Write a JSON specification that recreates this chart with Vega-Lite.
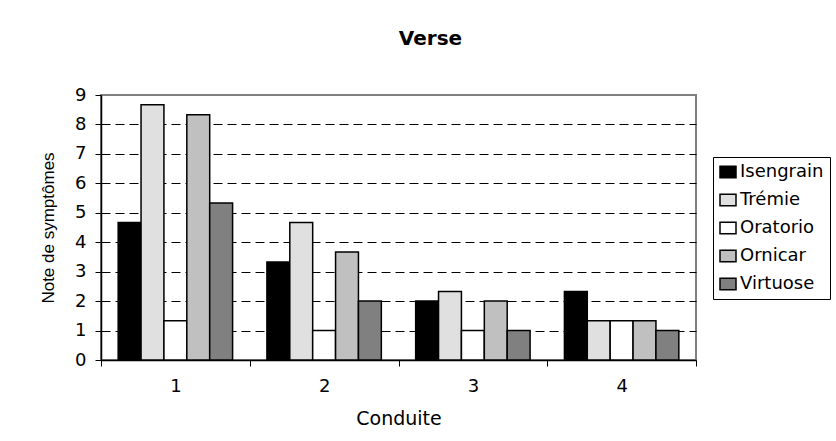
{
  "$schema": "https://vega.github.io/schema/vega-lite/v6.json",
  "width": 595,
  "height": 265,
  "autosize": {"type": "none"},
  "padding": {"left": 101, "top": 95, "right": 140, "bottom": 81},
  "background": "#ffffff",
  "title": {
    "text": "Verse",
    "font": "DejaVu Sans",
    "fontSize": 20,
    "fontWeight": "bold",
    "color": "#000000",
    "anchor": "middle",
    "frame": "group",
    "dx": 32,
    "offset": 37
  },
  "data": {
    "values": [
      {"Conduite": "1", "Variete": "Isengrain", "Note": 4.67},
      {"Conduite": "1", "Variete": "Trémie", "Note": 8.67},
      {"Conduite": "1", "Variete": "Oratorio", "Note": 1.33},
      {"Conduite": "1", "Variete": "Ornicar", "Note": 8.33},
      {"Conduite": "1", "Variete": "Virtuose", "Note": 5.33},
      {"Conduite": "2", "Variete": "Isengrain", "Note": 3.33},
      {"Conduite": "2", "Variete": "Trémie", "Note": 4.67},
      {"Conduite": "2", "Variete": "Oratorio", "Note": 1.0},
      {"Conduite": "2", "Variete": "Ornicar", "Note": 3.67},
      {"Conduite": "2", "Variete": "Virtuose", "Note": 2.0},
      {"Conduite": "3", "Variete": "Isengrain", "Note": 2.0},
      {"Conduite": "3", "Variete": "Trémie", "Note": 2.33},
      {"Conduite": "3", "Variete": "Oratorio", "Note": 1.0},
      {"Conduite": "3", "Variete": "Ornicar", "Note": 2.0},
      {"Conduite": "3", "Variete": "Virtuose", "Note": 1.0},
      {"Conduite": "4", "Variete": "Isengrain", "Note": 2.33},
      {"Conduite": "4", "Variete": "Trémie", "Note": 1.33},
      {"Conduite": "4", "Variete": "Oratorio", "Note": 1.33},
      {"Conduite": "4", "Variete": "Ornicar", "Note": 1.33},
      {"Conduite": "4", "Variete": "Virtuose", "Note": 1.0}
    ]
  },
  "mark": {"type": "bar", "stroke": "#000000", "strokeWidth": 1.5},
  "encoding": {
    "x": {
      "field": "Conduite",
      "type": "nominal",
      "scale": {"paddingInner": 0, "paddingOuter": 0},
      "axis": {
        "title": "Conduite",
        "labelAngle": 0,
        "tickBand": "extent",
        "domainColor": "#000000",
        "domainWidth": 1.5,
        "tickColor": "#000000",
        "tickSize": 6,
        "labelPadding": 11,
        "titlePadding": 14,
        "labelFont": "DejaVu Sans",
        "labelFontSize": 18,
        "labelColor": "#000000",
        "titleFont": "DejaVu Sans",
        "titleFontSize": 19,
        "titleFontWeight": "normal",
        "titleColor": "#000000"
      }
    },
    "xOffset": {
      "field": "Variete",
      "type": "nominal",
      "sort": ["Isengrain", "Trémie", "Oratorio", "Ornicar", "Virtuose"],
      "scale": {"paddingInner": 0, "paddingOuter": 0.75}
    },
    "y": {
      "field": "Note",
      "type": "quantitative",
      "scale": {"domain": [0, 9], "nice": false},
      "axis": {
        "title": "Note de symptômes",
        "values": [0, 1, 2, 3, 4, 5, 6, 7, 8, 9],
        "grid": true,
        "gridColor": "#000000",
        "gridDash": [9, 5],
        "gridWidth": 1,
        "gridOpacity": {"condition": {"test": "datum.value == 9 || datum.value == 0", "value": 0}, "value": 1},
        "domainColor": "#000000",
        "domainWidth": 1.5,
        "tickColor": "#000000",
        "tickSize": 6,
        "labelPadding": 9,
        "titlePadding": 17,
        "labelFont": "DejaVu Sans",
        "labelFontSize": 18,
        "labelColor": "#000000",
        "titleFont": "Liberation Sans",
        "titleFontSize": 17,
        "titleFontWeight": "normal",
        "titleColor": "#000000"
      }
    },
    "fill": {
      "field": "Variete",
      "type": "nominal",
      "sort": ["Isengrain", "Trémie", "Oratorio", "Ornicar", "Virtuose"],
      "scale": {
        "domain": ["Isengrain", "Trémie", "Oratorio", "Ornicar", "Virtuose"],
        "range": ["#000000", "#e0e0e0", "#ffffff", "#c0c0c0", "#808080"]
      },
      "legend": {
        "title": null,
        "orient": "none",
        "legendX": 612,
        "legendY": 62,
        "symbolType": "M-1,-0.72H1V0.72H-1Z",
        "symbolSize": 256,
        "symbolStrokeColor": "#000000",
        "symbolStrokeWidth": 1.5,
        "labelFont": "DejaVu Sans",
        "labelFontSize": 18,
        "labelColor": "#000000",
        "labelOffset": 3,
        "rowPadding": 10,
        "strokeColor": "#000000",
        "fillColor": "#ffffff",
        "padding": 6
      }
    }
  },
  "config": {
    "view": {"stroke": "#808080", "strokeWidth": 2},
    "axis": {"grid": false}
  }
}
